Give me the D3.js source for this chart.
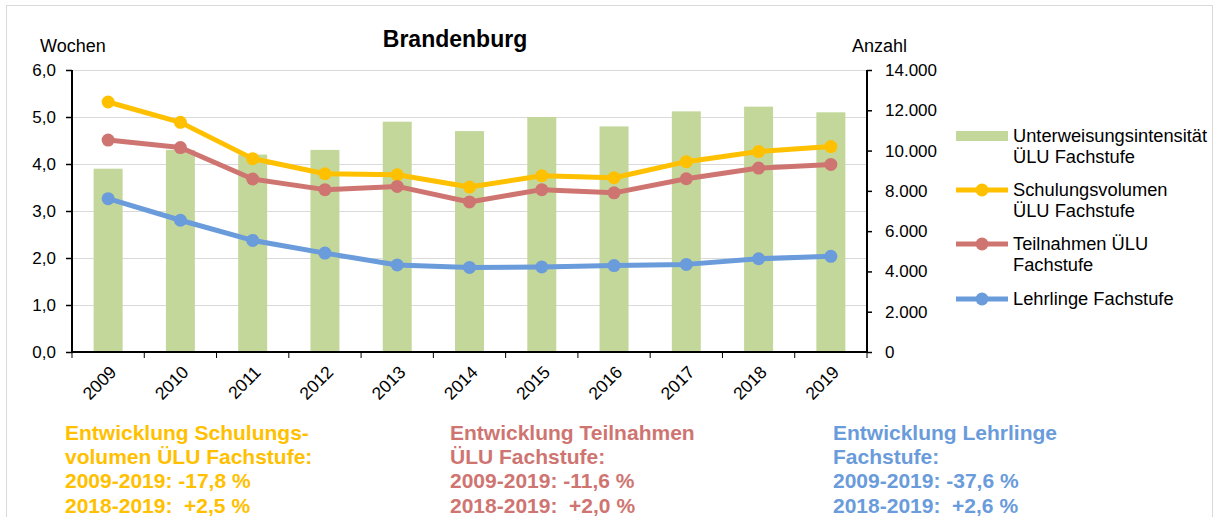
<!DOCTYPE html>
<html><head><meta charset="utf-8">
<script src="https://cdn.jsdelivr.net/npm/d3@7"></script>
<style>
html,body{margin:0;padding:0;background:#fff;}
svg{display:block;font-family:"Liberation Sans",Arial,sans-serif;}
</style></head>
<body>
<svg id="chart" width="1220" height="517"></svg>
<script>
const years = ["2009","2010","2011","2012","2013","2014","2015","2016","2017","2018","2019"];
const intensitaet = [3.9,4.3,4.2,4.3,4.9,4.7,5.0,4.8,5.12,5.22,5.1];
const schulungsvolumen = [12410,11400,9600,8850,8800,8190,8750,8650,9450,9950,10200];
const teilnahmen = [10520,10150,8590,8060,8220,7450,8060,7900,8600,9130,9310];
const lehrlinge = [7610,6540,5540,4910,4320,4200,4220,4290,4350,4630,4750];
const leftTicks = [0,1,2,3,4,5,6];
const rightTicks = [0,2000,4000,6000,8000,10000,12000,14000];
const legendLabels = [["Unterweisungsintensität","ÜLU Fachstufe"],["Schulungsvolumen","ÜLU Fachstufe"],["Teilnahmen ÜLU","Fachstufe"],["Lehrlinge Fachstufe"]];
const notes = [
  ["Entwicklung Schulungs-","volumen ÜLU Fachstufe:","2009-2019: -17,8 %","2018-2019:  +2,5 %"],
  ["Entwicklung Teilnahmen","ÜLU Fachstufe:","2009-2019: -11,6 %","2018-2019:  +2,0 %"],
  ["Entwicklung Lehrlinge","Fachstufe:","2009-2019: -37,6 %","2018-2019:  +2,6 %"]
];

const C = {green:"#C4D79B", yellow:"#FFC000", red:"#CF7571", blue:"#6A9BDB", grid:"#D9D9D9"};
const svg = d3.select("#chart");
const L = 72, R = 867, T = 70, B = 352;

// outer frame
svg.append("rect").attr("x",6.5).attr("y",5.5).attr("width",1206).attr("height",530)
  .attr("fill","none").attr("stroke","#D9D9D9").attr("stroke-width",1);

const x = d3.scaleBand().domain(years).range([L,R]).paddingInner(0).paddingOuter(0);
const yL = d3.scaleLinear().domain([0,6]).range([B,T]);
const yR = d3.scaleLinear().domain([0,14000]).range([B,T]);

// gridlines
svg.append("g").selectAll("line").data(leftTicks.filter(d=>d>0)).join("line")
  .attr("x1",L).attr("x2",R).attr("y1",d=>yL(d)+0.5).attr("y2",d=>yL(d)+0.5)
  .attr("stroke",C.grid).attr("stroke-width",1);

// bars
const bw = 29;
svg.append("g").selectAll("rect").data(years).join("rect")
  .attr("x",(d)=>x(d)+x.bandwidth()/2-bw/2)
  .attr("width",bw)
  .attr("y",(d,i)=>yL(intensitaet[i]))
  .attr("height",(d,i)=>B-yL(intensitaet[i]))
  .attr("fill",C.green);

// axes
const fmtL = d=>d3.format(".1f")(d).replace(".",",");
const fmtR = d=>d3.format(",")(d).replace(/,/g,".");
const gL = svg.append("g").attr("transform",`translate(${L},0)`)
  .call(d3.axisLeft(yL).tickValues(leftTicks).tickFormat(fmtL).tickSize(6).tickPadding(10));
const gR = svg.append("g").attr("transform",`translate(${R},0)`)
  .call(d3.axisRight(yR).tickValues(rightTicks).tickFormat(fmtR).tickSize(5).tickPadding(13));
const gX = svg.append("g").attr("transform",`translate(0,${B})`)
  .call(d3.axisBottom(x).tickSize(0).tickFormat(""));
// x ticks at band boundaries
const bounds = years.map(d=>x(d)).concat([R]);
svg.append("g").selectAll("line").data(bounds).join("line")
  .attr("x1",d=>d).attr("x2",d=>d).attr("y1",B).attr("y2",B+6)
  .attr("stroke","#000").attr("stroke-width",1);
[gL,gR,gX].forEach(g=>{
  g.select(".domain").attr("stroke","#000").attr("stroke-width",2);
  g.selectAll(".tick line").attr("stroke","#000").attr("stroke-width",1.5);
  g.selectAll(".tick text").attr("font-size",17).attr("fill","#000").attr("font-family","Liberation Sans, Arial, sans-serif");
});
gL.select(".domain").attr("d",`M0,${T}V${B}`);
gR.select(".domain").attr("d",`M0,${T}V${B}`);
gX.select(".domain").attr("d",`M${L},0H${R}`);

// year labels
svg.append("g").selectAll("text").data(years).join("text")
  .attr("transform",d=>`translate(${x(d)+x.bandwidth()/2+5},${B+17}) rotate(-45)`)
  .attr("text-anchor","end").attr("dy","0.35em")
  .attr("font-size",17.5).attr("fill","#000").text(d=>d);

// lines
const series = [
  {vals:schulungsvolumen,color:C.yellow},
  {vals:teilnahmen,color:C.red},
  {vals:lehrlinge,color:C.blue}
];
const cx = d=>x(d)+x.bandwidth()/2;
const line = d3.line().x((d,i)=>cx(years[i])).y(d=>yR(d));
series.forEach(s=>{
  svg.append("path").datum(s.vals).attr("d",line).attr("fill","none")
    .attr("stroke",s.color).attr("stroke-width",5).attr("stroke-linejoin","round");
  svg.append("g").selectAll("circle").data(s.vals).join("circle")
    .attr("cx",(d,i)=>cx(years[i])).attr("cy",d=>yR(d)).attr("r",6.5).attr("fill",s.color);
});

// titles
svg.append("text").attr("x",455).attr("y",47).attr("text-anchor","middle")
  .attr("font-size",23).attr("font-weight","bold").text("Brandenburg");
svg.append("text").attr("x",40).attr("y",52).attr("font-size",18).text("Wochen");
svg.append("text").attr("x",852).attr("y",52).attr("font-size",18).text("Anzahl");

// legend
const lg = svg.append("g");
const legY = [136,190,244,299];
const legColors = [C.green,C.yellow,C.red,C.blue];
legY.forEach((y,i)=>{
  if(i===0){
    lg.append("rect").attr("x",956).attr("y",y-5).attr("width",52).attr("height",10).attr("fill",C.green);
  } else {
    lg.append("line").attr("x1",956).attr("x2",1008).attr("y1",y).attr("y2",y)
      .attr("stroke",legColors[i]).attr("stroke-width",5);
    lg.append("circle").attr("cx",982).attr("cy",y).attr("r",6.5).attr("fill",legColors[i]);
  }
  legendLabels[i].forEach((t,j)=>{
    lg.append("text").attr("x",1013).attr("y",y+6+j*21).attr("font-size",18.3).attr("fill","#000").text(t);
  });
});

// notes
const noteX = [65,450,833];
const noteColors = [C.yellow,C.red,C.blue];
notes.forEach((lines,k)=>{
  lines.forEach((t,j)=>{
    svg.append("text").attr("x",noteX[k]).attr("y",440+j*24.2)
      .attr("font-size",21).attr("font-weight","bold").attr("fill",noteColors[k])
      .attr("xml:space","preserve").style("white-space","pre").text(t);
  });
});
</script>
</body></html>
